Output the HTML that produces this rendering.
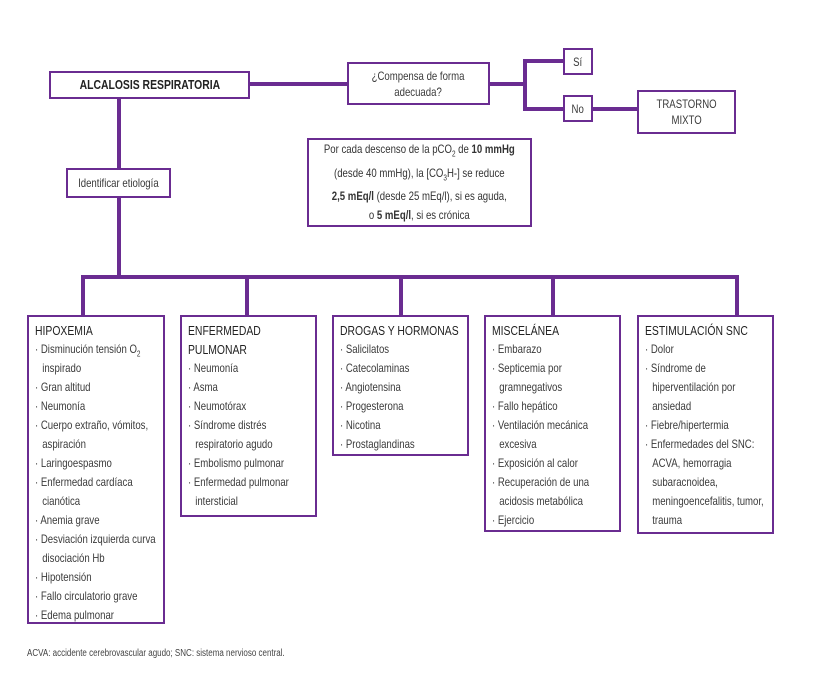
<!DOCTYPE html>
<html><head><meta charset="utf-8"><style>
body{margin:0;width:813px;height:678px;background:#fff;position:relative;overflow:hidden;font-family:"Liberation Sans",sans-serif;color:#3a3a3a}
.b{position:absolute;border:2px solid #6a2c91;box-sizing:border-box;background:#fff}
.l{position:absolute;background:#6a2c91}
.c{display:flex;align-items:center;justify-content:center;text-align:center;font-size:12px;line-height:16px}
.c>span{display:inline-block;white-space:nowrap;transform:scaleX(0.8);transform-origin:center}
.box{font-size:12px;line-height:19px;padding:4px 0 0 6px}
.in{transform:scaleX(0.8);transform-origin:left top}
.box h4{margin:0;font-weight:normal;font-size:13px;color:#222}
.box .in div{padding-left:9px;text-indent:-9px}
.box .in div:before{content:"· ";}
</style></head><body>
<div class="l" style="left:250px;top:82px;width:97px;height:4px"></div>
<div class="l" style="left:490px;top:82px;width:37px;height:4px"></div>
<div class="l" style="left:523px;top:59px;width:4px;height:52px"></div>
<div class="l" style="left:523px;top:59px;width:40px;height:4px"></div>
<div class="l" style="left:523px;top:107px;width:40px;height:4px"></div>
<div class="l" style="left:593px;top:107px;width:44px;height:4px"></div>
<div class="l" style="left:117px;top:98px;width:4px;height:181px"></div>
<div class="l" style="left:81px;top:275px;width:658px;height:4px"></div>
<div class="l" style="left:81px;top:275px;width:4px;height:40px"></div>
<div class="l" style="left:245px;top:275px;width:4px;height:40px"></div>
<div class="l" style="left:399px;top:275px;width:4px;height:40px"></div>
<div class="l" style="left:551px;top:275px;width:4px;height:40px"></div>
<div class="l" style="left:735px;top:275px;width:4px;height:40px"></div>

<div class="b c" style="left:49px;top:71px;width:201px;height:28px;font-weight:bold;font-size:13px;color:#222"><span>ALCALOSIS RESPIRATORIA</span></div>
<div class="b c" style="left:347px;top:62px;width:143px;height:43px"><span>¿Compensa de forma<br>adecuada?</span></div>
<div class="b c" style="left:563px;top:48px;width:30px;height:27px"><span>Sí</span></div>
<div class="b c" style="left:563px;top:95px;width:30px;height:27px"><span>No</span></div>
<div class="b c" style="left:637px;top:90px;width:99px;height:44px"><span>TRASTORNO<br>MIXTO</span></div>
<div class="b c" style="left:66px;top:168px;width:105px;height:30px"><span>Identificar etiología</span></div>
<div class="b c" style="left:307px;top:138px;width:225px;height:89px;line-height:19px;color:#333"><span>Por cada descenso de la pCO<sub style="font-size:8px">2</sub> de <b>10 mmHg</b><br>(desde 40 mmHg), la [CO<sub style="font-size:8px">3</sub>H-] se reduce<br><b>2,5 mEq/l</b> (desde 25 mEq/l), si es aguda,<br>o <b>5 mEq/l</b>, si es crónica</span></div>

<div class="b box" style="left:27px;top:315px;width:138px;height:309px"><div class="in" style="width:160px"><h4>HIPOXEMIA</h4>
<div>Disminución tensión O<sub style="font-size:8px;line-height:0">2</sub> inspirado</div><div>Gran altitud</div><div>Neumonía</div><div>Cuerpo extraño, vómitos, aspiración</div><div>Laringoespasmo</div><div>Enfermedad cardíaca cianótica</div><div>Anemia grave</div><div>Desviación izquierda curva disociación Hb</div><div>Hipotensión</div><div>Fallo circulatorio grave</div><div>Edema pulmonar</div></div></div>
<div class="b box" style="left:180px;top:315px;width:137px;height:202px"><div class="in" style="width:160px"><h4>ENFERMEDAD<br>PULMONAR</h4>
<div>Neumonía</div><div>Asma</div><div>Neumotórax</div><div>Síndrome distrés respiratorio agudo</div><div>Embolismo pulmonar</div><div>Enfermedad pulmonar intersticial</div></div></div>
<div class="b box" style="left:332px;top:315px;width:137px;height:141px"><div class="in" style="width:160px"><h4>DROGAS Y HORMONAS</h4>
<div>Salicilatos</div><div>Catecolaminas</div><div>Angiotensina</div><div>Progesterona</div><div>Nicotina</div><div>Prostaglandinas</div></div></div>
<div class="b box" style="left:484px;top:315px;width:137px;height:217px"><div class="in" style="width:160px"><h4>MISCELÁNEA</h4>
<div>Embarazo</div><div>Septicemia por gramnegativos</div><div>Fallo hepático</div><div>Ventilación mecánica excesiva</div><div>Exposición al calor</div><div>Recuperación de una acidosis metabólica</div><div>Ejercicio</div></div></div>
<div class="b box" style="left:637px;top:315px;width:137px;height:219px"><div class="in" style="width:160px"><h4>ESTIMULACIÓN SNC</h4>
<div>Dolor</div><div>Síndrome de hiperventilación por ansiedad</div><div>Fiebre/hipertermia</div><div>Enfermedades del SNC: ACVA, hemorragia subaracnoidea, meningoencefalitis, tumor, trauma</div></div></div>

<div style="position:absolute;left:27px;top:648px;font-size:10px;color:#444;transform:scaleX(0.8);transform-origin:left top;white-space:nowrap">ACVA: accidente cerebrovascular agudo; SNC: sistema nervioso central.</div>
</body></html>
